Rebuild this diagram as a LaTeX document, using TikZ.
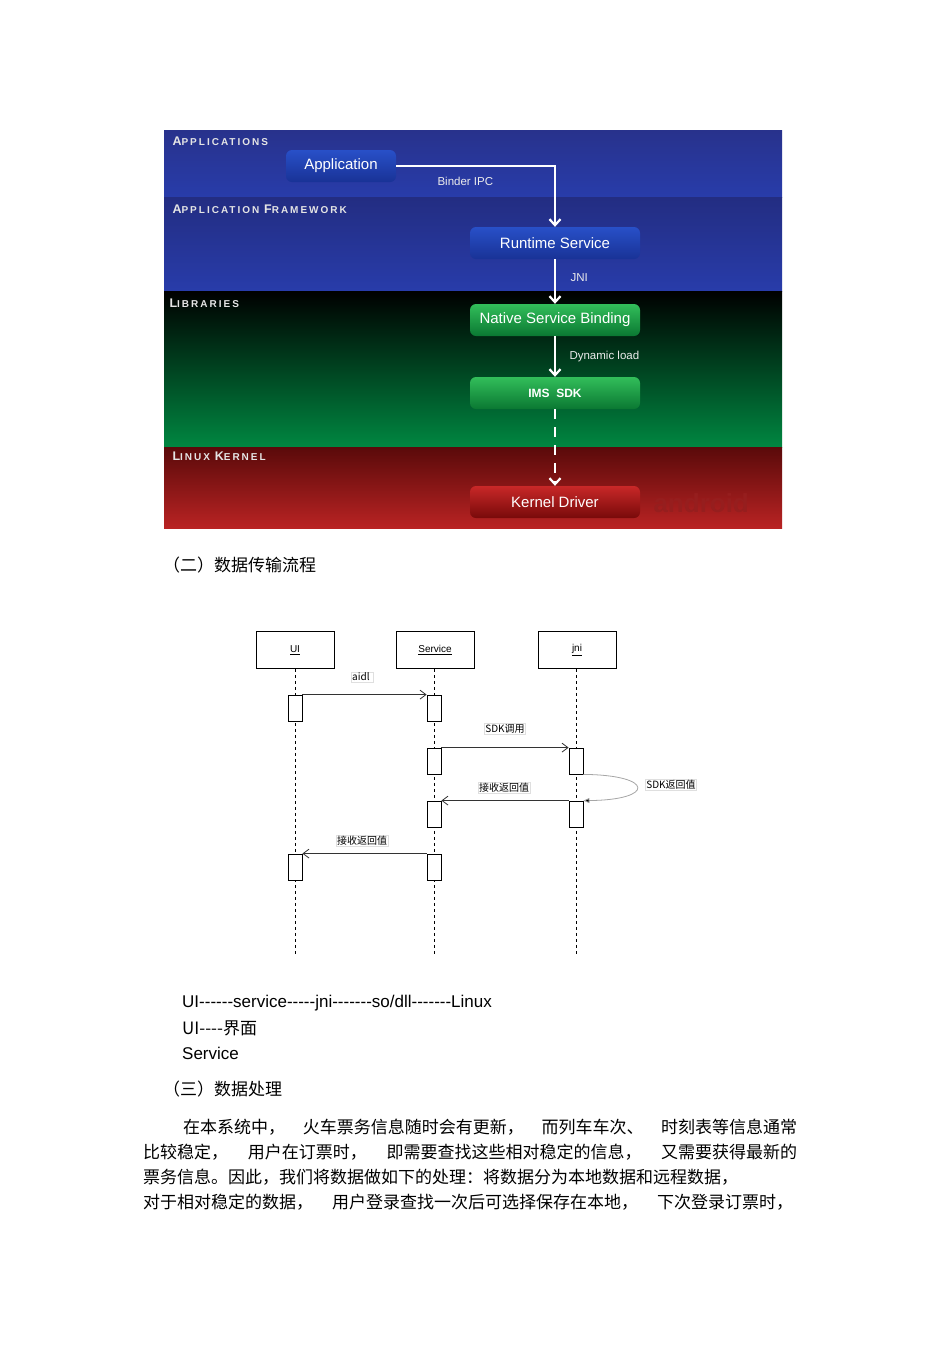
\documentclass[tikz,border=0pt]{standalone}
\usepackage{fontspec}
\setmainfont{Liberation Sans}
\newfontfamily\cjk{Noto Sans CJK SC}
\usetikzlibrary{arrows.meta}
\newcommand\hy{-\kern0pt}
\newcommand\lyrtxt[2]{{\fontsize{12.5}{12.5}\selectfont #1}{\fontsize{10}{10}\selectfont #2}}
\begin{document}
\begin{tikzpicture}[x=1pt,y=-1pt,
 lyr/.style={anchor=west,text=white!80!gray,font=\bfseries\addfontfeatures{LetterSpace=20}},
 anode/.style={rounded corners=6pt,minimum height=32,text=white,font=\fontsize{15}{15}\selectfont,inner sep=0},
 wl/.style={text=white!85!gray,font=\fontsize{11.5}{11.5}\selectfont,anchor=west},
 warr/.style={draw=white,line width=2.2pt,-{Straight Barb[length=6pt,width=11pt]}},
 hdr/.style={draw,line width=0.8pt,minimum width=78,minimum height=37,font=\fontsize{10}{10}\selectfont},
 act/.style={draw,line width=0.8pt,fill=white,minimum width=14,minimum height=26,inner sep=0},
 life/.style={dashed,line width=0.7pt},
 msg/.style={line width=0.8pt,gray!40!black,-{Straight Barb[length=6pt,width=9pt]}},
 lab/.style={draw=gray!25,fill=white,inner sep=1pt,font=\cjk\fontsize{10}{10}\selectfont},
 body/.style={anchor=west,font=\cjk\fontsize{17}{17}\selectfont,inner sep=0}]
\useasboundingbox (0,0) rectangle (950,1345);
\fill[white] (0,0) rectangle (950,1345);
% bands
\shade[top color={rgb,255:red,40;green,50;blue,140},bottom color={rgb,255:red,40;green,60;blue,170}] (164,130) rectangle (782,197);
\shade[top color={rgb,255:red,35;green,45;blue,130},bottom color={rgb,255:red,40;green,60;blue,170}] (164,197) rectangle (782,291);
\shade[top color=black,bottom color={rgb,255:red,0;green,135;blue,65}] (164,291) rectangle (782,447);
\shade[top color={rgb,255:red,90;green,10;blue,10},bottom color={rgb,255:red,185;green,35;blue,35}] (164,447) rectangle (782,528);
\node[lyr] (l1) at (169,141) {\lyrtxt{A}{PPLICATIONS}};
\node[lyr] (l2) at (169,209) {\lyrtxt{A}{PPLICATION} \lyrtxt{F}{RAMEWORK}};
\node[lyr] (l3) at (166,303) {\lyrtxt{L}{IBRARIES}};
\node[lyr] (l4) at (169,456) {\lyrtxt{L}{INUX} \lyrtxt{K}{ERNEL}};
\node[text={rgb,255:red,150;green,30;blue,30},font=\fontsize{26}{26}\selectfont\bfseries,anchor=west] (wm) at (650,503) {android};
\node[anode,minimum width=110,top color={rgb,255:red,40;green,80;blue,200},bottom color={rgb,255:red,25;green,50;blue,150}] (app) at (341,166) {Application};
\node[anode,minimum width=170,top color={rgb,255:red,40;green,80;blue,200},bottom color={rgb,255:red,25;green,50;blue,150}] (rs) at (555,243) {Runtime Service};
\node[anode,minimum width=170,top color={rgb,255:red,50;green,190;blue,90},bottom color={rgb,255:red,10;green,120;blue,50}] (nsb) at (555,320) {Native Service Binding};
\node[anode,minimum width=170,top color={rgb,255:red,50;green,190;blue,90},bottom color={rgb,255:red,10;green,120;blue,50},font=\fontsize{12}{12}\selectfont\rmfamily\bfseries] (ims) at (555,393) {IMS\ \ SDK};
\node[anode,minimum width=170,top color={rgb,255:red,200;green,40;blue,40},bottom color={rgb,255:red,120;green,10;blue,10}] (kd) at (555,502) {Kernel Driver};
\draw[warr] (app.east) -- (555,166) -- (rs.north);
\draw[warr] (rs.south) -- (nsb.north);
\draw[warr] (nsb.south) -- (ims.north);
\draw[warr,dash pattern=on 10pt off 8pt] (ims.south) -- (kd.north);
\node[wl] (b1) at (434,181) {Binder IPC};
\node[wl] (b2) at (567,278) {JNI};
\node[wl] (b3) at (566,357) {Dynamic load};
% heading
\node[body] (h2) at (163,565) {（二）数据传输流程};
% sequence
\node[hdr] (ui) at (295,650) {\underline{UI}};
\node[hdr] (sv) at (435,650) {\underline{Service}};
\node[hdr] (jn) at (577,650) {\underline{jni}};
\coordinate (e1) at (295,955); \coordinate (e2) at (434,955); \coordinate (e3) at (576,955);
\draw[life] (ui.south -| e1) -- (e1);
\draw[life] (sv.south -| e2) -- (e2);
\draw[life] (jn.south -| e3) -- (e3);
\node[act] (a1) at (295,708) {};
\node[act] (a2) at (434,708) {};
\node[act] (a3) at (434,761) {};
\node[act] (a4) at (576,761) {};
\node[act] (a5) at (434,814) {};
\node[act] (a6) at (576,814) {};
\node[act] (a7) at (295,867) {};
\node[act] (a8) at (434,867) {};
\draw[msg] (a1.north east) -- (a2.north west);
\draw[msg] (a3.north east) -- (a4.north west);
\draw[msg] (a6.north west) -- (a5.north east);
\draw[msg] (a8.north west) -- (a7.north east);
\draw[line width=0.8pt,gray!70,-{Triangle[length=6pt,width=5pt,fill=black]}] (a4.south east) .. controls (655,775) and (655,800) .. (a6.north east);
\node[lab] (m1) at (362,677) {aidl\ \ };
\node[lab] (m2) at (505,729) {SDK调用};
\node[lab] (m3) at (671,785) {SDK返回值};
\node[lab] (m4) at (504,788) {接收返回值};
\node[lab] (m5) at (362,841) {接收返回值};
% text
\node[body,font=\fontsize{17}{17}\selectfont] (t1) at (182,1003) {UI\hy\hy\hy\hy\hy\hy service\hy\hy\hy\hy\hy jni\hy\hy\hy\hy\hy\hy\hy so/dll\hy\hy\hy\hy\hy\hy\hy Linux};
\node[body] (t2) at (182,1028) {\fontsize{17}{17}\selectfont UI\hy\hy\hy\hy 界面};
\node[body,font=\fontsize{17}{17}\selectfont] (t3) at (182,1053) {Service};
\node[body] (h3) at (163,1089) {（三）数据处理};
\node[body] (p1) at (183,1127) {\makebox[614pt][s]{在本系统中， 火车票务信息随时会有更新， 而列车车次、 时刻表等信息通常}};
\node[body] (p2) at (143,1152) {\makebox[654pt][s]{比较稳定， 用户在订票时， 即需要查找这些相对稳定的信息， 又需要获得最新的}};
\node[body] (p3) at (143,1177) {票务信息。因此，我们将数据做如下的处理：将数据分为本地数据和远程数据，};
\node[body] (p4) at (143,1202) {\makebox[650pt][s]{对于相对稳定的数据， 用户登录查找一次后可选择保存在本地， 下次登录订票时，}};
\end{tikzpicture}
\end{document}
